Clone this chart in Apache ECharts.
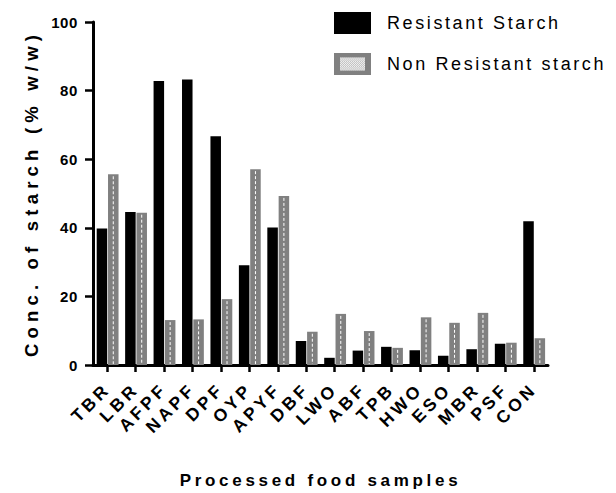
<!DOCTYPE html>
<html>
<head>
<meta charset="utf-8">
<script src="https://cdn.jsdelivr.net/npm/echarts@6/dist/echarts.min.js"></script>
<style>
	html, body { margin: 0; padding: 0; background: #fff; }
	#main { width: 616px; height: 493px; }
	/* Prism style wide lettering, picked by font size */
	#main text[style*="15px"] { letter-spacing: 0.6px; }
	#main text[style*="17.5px"] { letter-spacing: 3.6px; }
	#main text[style*="18px"] { letter-spacing: 2.6px; }
	#main text[style*="17px"] { letter-spacing: 3.7px; }
	#main text[style*="18.5px"] { letter-spacing: 5.2px; }
</style>
</head>
<body>
<div id="main"></div>
<script>
"use strict";

var categories = ['TBR', 'LBR', 'AFPF', 'NAPF', 'DPF', 'OYP', 'APYF', 'DBF',
	'LWO', 'ABF', 'TPB', 'HWO', 'ESO', 'MBR', 'PSF', 'CON'];
var resistant = [39.8, 44.6, 82.8, 83.2, 66.7, 29.1, 40.1, 7.0,
	2.1, 4.2, 5.3, 4.3, 2.7, 4.6, 6.2, 41.9];
var nonResistant = [55.6, 44.4, 13.1, 13.3, 19.2, 57.1, 49.3, 9.7,
	14.9, 9.9, 5.0, 13.9, 12.3, 15.2, 6.5, 7.8];
var yTicks = [0, 20, 40, 60, 80, 100];

var FONT = 'Arial, "Liberation Sans", sans-serif';

// checkered legend swatch for the grey series
var checkIcon = 'image://data:image/svg+xml;utf8,' + encodeURIComponent(
	"<svg xmlns='http://www.w3.org/2000/svg' width='37' height='20'>" +
	"<defs><pattern id='p' width='2' height='2' patternUnits='userSpaceOnUse'>" +
	"<rect width='2' height='2' fill='#bdbdbd'/><rect width='1' height='1' fill='#f4f4f4'/>" +
	"<rect x='1' y='1' width='1' height='1' fill='#f4f4f4'/></pattern></defs>" +
	"<rect width='37' height='20' fill='#808080'/>" +
	"<rect x='6' y='4' width='25' height='12' fill='url(#p)'/></svg>");

function pairs(values) {
	var d = [];
	for (var i = 0, len = values.length; i < len; i++) {
		d.push([i, values[i]]);
	}
	return d;
}

// side -1 = left half of the category band, 1 = right half
function barRenderer(side, fill, dashed) {
	return function (params, api) {
		var idx = api.value(0),
			top = api.coord([idx, api.value(1)]),
			base = api.coord([idx, 0]),
			w = api.size([1, 0])[0] * 0.37,
			x0 = side < 0 ? top[0] - w : top[0] + 0.8,
			children = [{
				type: 'rect',
				shape: {x: x0, y: top[1], width: w, height: base[1] - top[1]},
				style: {fill: fill}
			}];
		if (dashed && base[1] - top[1] > 4) {
			children.push({
				type: 'line',
				shape: {x1: x0 + w / 2, y1: top[1] + 2, x2: x0 + w / 2, y2: base[1] - 1},
				style: {stroke: '#ffffff', lineWidth: 1, lineDash: [3, 2]}
			});
		}
		return {type: 'group', children: children};
	};
}

var chart = echarts.init(document.getElementById('main'), null, {renderer: 'svg'});

chart.setOption({
	animation: false,
	backgroundColor: '#ffffff',
	grid: {
		left: 93,
		right: 68,
		top: 22,
		bottom: 128,
		containLabel: false,
		outerBoundsMode: 'none'
	},
	legend: {
		orient: 'vertical',
		left: 334,
		top: 12,
		padding: 0,
		itemWidth: 37,
		itemHeight: 22,
		itemGap: 19,
		textStyle: {
			fontFamily: FONT,
			fontSize: 18,
			color: '#000',
			padding: [0, 0, 0, 11]
		},
		data: [{
			name: 'Resistant Starch',
			icon: 'rect',
			itemStyle: {color: '#000000'},
			textStyle: {padding: [9, 0, 0, 11]}
		}, {
			name: 'Non Resistant starch',
			icon: checkIcon
		}]
	},
	xAxis: {
		type: 'category',
		data: categories,
		name: 'Processed food samples',
		nameLocation: 'middle',
		nameGap: 107,
		nameTextStyle: {fontFamily: FONT, fontSize: 17, fontWeight: 'bold', color: '#000'},
		axisLine: {show: true, lineStyle: {color: '#000', width: 3}},
		axisTick: {show: true, alignWithLabel: true, length: 7, lineStyle: {color: '#000', width: 2.5}},
		axisLabel: {
			rotate: 45,
			margin: 21,
			padding: [9, 0, 0, 0],
			interval: 0,
			fontFamily: FONT,
			fontSize: 17.5,
			fontWeight: 'bold',
			color: '#000'
		},
		splitLine: {show: false}
	},
	yAxis: {
		type: 'value',
		min: yTicks[0],
		max: yTicks[yTicks.length - 1],
		interval: yTicks[1] - yTicks[0],
		name: 'Conc. of starch (% w/w)',
		nameLocation: 'middle',
		nameGap: 52,
		nameTextStyle: {fontFamily: FONT, fontSize: 18.5, fontWeight: 'bold', color: '#000'},
		axisLine: {show: true, lineStyle: {color: '#000', width: 3}},
		axisTick: {show: true, length: 8, lineStyle: {color: '#000', width: 2.5}},
		axisLabel: {
			margin: 15,
			fontFamily: FONT,
			fontSize: 15,
			fontWeight: 'bold',
			color: '#000'
		},
		splitLine: {show: false}
	},
	series: [{
		name: 'Resistant Starch',
		type: 'custom',
		renderItem: barRenderer(-1, '#000000', false),
		itemStyle: {color: '#000000'},
		encode: {x: 0, y: 1},
		data: pairs(resistant)
	}, {
		name: 'Non Resistant starch',
		type: 'custom',
		renderItem: barRenderer(1, '#808080', true),
		itemStyle: {color: '#808080'},
		encode: {x: 0, y: 1},
		data: pairs(nonResistant)
	}]
});
</script>
</body>
</html>
